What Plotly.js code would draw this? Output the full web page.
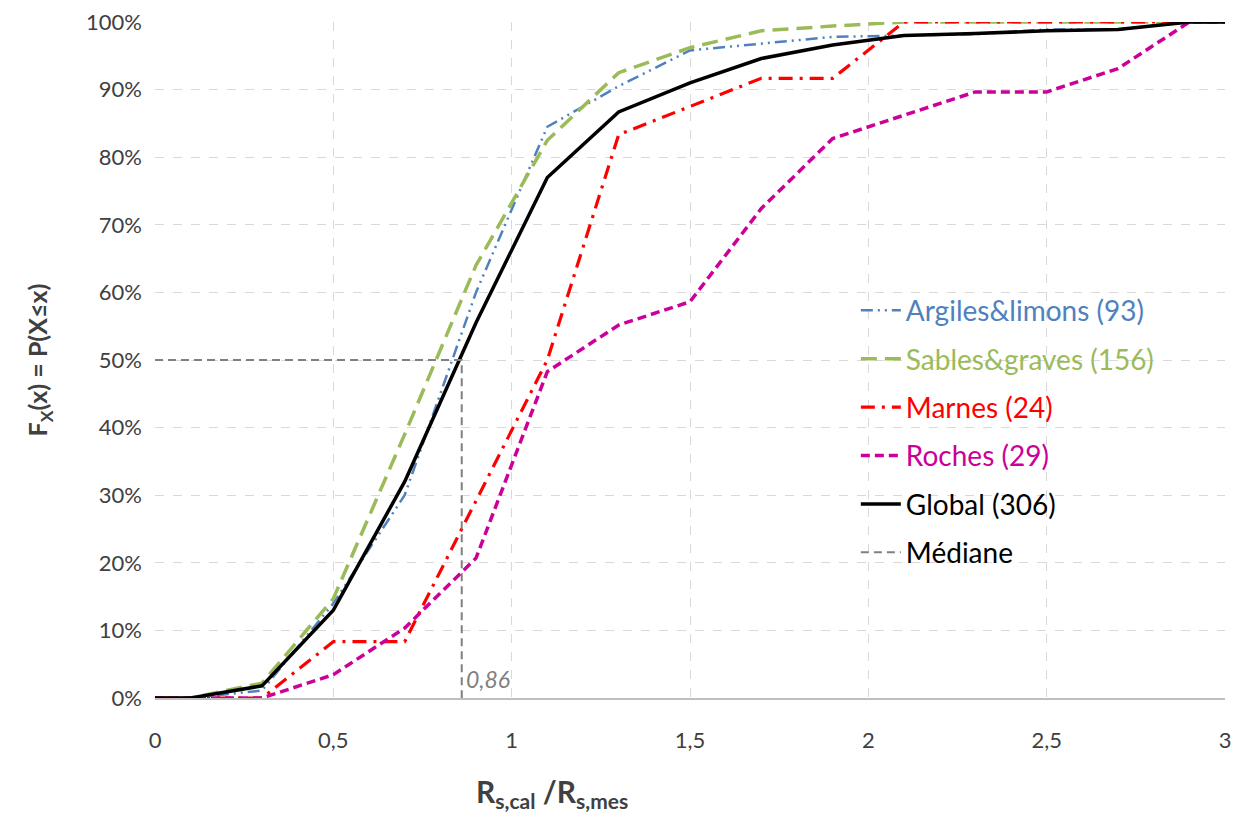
<!DOCTYPE html>
<html>
<head>
<meta charset="utf-8">
<script src="https://cdn.plot.ly/plotly-3.0.1.min.js"></script>
<style>html,body{margin:0;padding:0;background:#fff;}#chart{width:1248px;height:813px;}</style>
</head>
<body>
<div id="chart"></div>
<script>
// Ratio R_s,cal / R_s,mes
const xValues = [0, 0.1, 0.3, 0.5, 0.7, 0.9, 1.1, 1.3, 1.5, 1.7, 1.9, 2.1, 2.3, 2.5, 2.7, 2.9, 3];
// Cumulative frequencies (%)
const argiles = [0, 0, 1.1, 14, 30, 60, 84.5, 90.5, 95.8, 96.8, 97.8, 98, 98.2, 98.9, 98.9, 100, 100];
const sables  = [0, 0, 2.2, 14.7, 39, 64, 82.5, 92.5, 96.2, 98.7, 99.4, 100, 100, 100, 100, 100, 100];
const marnes  = [0, 0, 0, 8.33, 8.33, 29.17, 50, 83.33, 87.5, 91.67, 91.67, 100, 100, 100, 100, 100, 100];
const roches  = [0, 0, 0, 3.45, 10.34, 20.69, 48.28, 55.17, 58.62, 72.41, 82.76, 86.21, 89.66, 89.66, 93.10, 100, 100];
const globalF = [0, 0, 1.8, 13, 32, 55.5, 77, 86.7, 91, 94.6, 96.6, 98, 98.3, 98.7, 98.9, 100, 100];
const medianX = [0, 0.86, 0.86];
const medianY = [50, 50, 0];
const medianLabel = "0,86";

const names = ["Argiles&limons (93)", "Sables&graves (156)", "Marnes (24)", "Roches (29)", "Global (306)", "Médiane"];
const colors = ["#4f81bd", "#9bbb59", "#ff0000", "#cc0099", "#000000", "#808080"];
const textColors = ["#4f81bd", "#9bbb59", "#ff0000", "#cc0099", "#000000", "#000000"];

const pct = a => a.map(v => v / 100);
const series = [argiles, sables, marnes, roches, globalF];
const dashes = ["12px,5px,2px,5px,2px,5px", "16px,8px", "14px,7px,3px,7px", "9px,5px", "solid"];
const widths = [2.5, 3.5, 3.2, 3.5, 3.5];

const traces = series.map((s, i) => ({
  type: "scatter", mode: "lines", x: xValues, y: pct(s),
  name: '<span style="color:' + textColors[i] + '">' + names[i] + '</span>',
  legendgroup: "g" + i,
  line: {color: colors[i], width: widths[i], dash: dashes[i]},
  hoverinfo: "skip"
}));
traces.push({
  type: "scatter", mode: "lines", x: medianX, y: pct(medianY),
  name: '<span style="color:' + textColors[5] + '">' + names[5] + '</span>',
  legendgroup: "g5",
  line: {color: colors[5], width: 2, dash: "8px,5px"}, hoverinfo: "skip"
});

const layout = {
  width: 1248, height: 813,
  margin: {l: 155, r: 23, t: 22, b: 115},
  paper_bgcolor: "#fff", plot_bgcolor: "#fff",
  separators: ", ",
  font: {family: "Lato, 'Open Sans', sans-serif", size: 22, color: "#595959"},
  showlegend: true,
  legend: {
    x: 0.655, y: 0.61, xanchor: "left", yanchor: "top",
    bgcolor: "rgba(0,0,0,0)", tracegroupgap: 9,
    font: {size: 28, color: "#000"}, itemwidth: 40
  },
  xaxis: {
    range: [0, 3], dtick: 0.5, tick0: 0,
    showgrid: true, gridcolor: "#d9d9d9", griddash: "dash", gridwidth: 1,
    zeroline: false, showline: true, linecolor: "#bfbfbf", linewidth: 1.5,
    ticks: "", ticklabelstandoff: 22,
    tickfont: {size: 22, color: "#404040"}
  },
  yaxis: {
    range: [0, 1], dtick: 0.1, tickformat: ".0%",
    showgrid: true, gridcolor: "#d9d9d9", griddash: "dash", gridwidth: 1,
    zeroline: false, showline: false, ticks: "", ticklabelstandoff: 12,
    tickfont: {size: 22, color: "#404040"}
  },
  annotations: [
    {x: medianX[1], y: 0.028, xref: "x", yref: "y", xanchor: "left", yanchor: "middle",
     text: "<i>" + medianLabel + "</i>", showarrow: false, xshift: 2,
     font: {size: 23, color: "#808080"}},
    {x: 0.371, y: -0.14, xref: "paper", yref: "paper", xanchor: "center", yanchor: "middle",
     text: "<b>R<sub>s,cal</sub> /R<sub>s,mes</sub></b>", showarrow: false,
     font: {size: 30, color: "#404040"}},
    {x: -0.108, y: 0.5, xref: "paper", yref: "paper", xanchor: "center", yanchor: "middle",
     text: "<b>F<sub>X</sub>(x) = P(X≤x)</b>", showarrow: false, textangle: -90,
     font: {size: 25, color: "#404040"}}
  ]
};

Plotly.newPlot("chart", traces, layout, {displayModeBar: false, staticPlot: true});
</script>
</body>
</html>
